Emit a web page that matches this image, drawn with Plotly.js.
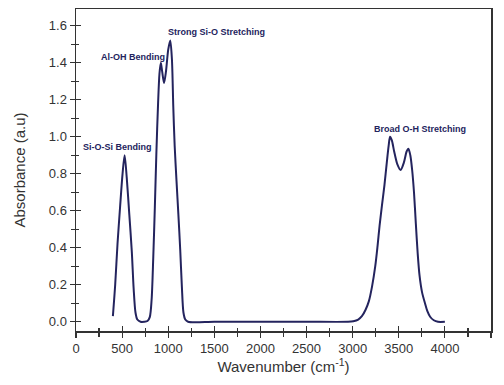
<!DOCTYPE html>
<html>
<head>
<meta charset="utf-8">
<script src="https://cdn.plot.ly/plotly-3.0.1.min.js"></script>
<style>html,body{margin:0;padding:0;background:#fff}#chart{width:504px;height:385px}</style>
</head>
<body>
<div id="chart"></div>
<script>
// Wavenumber (cm-1) and absorbance (a.u.)
var wavenumber = [400,425,450,478,505,527,550,578,605,625,645,665,700,740,775,800,820,838,855,872,890,905,920,935,955,975,1000,1022,1040,1055,1070,1090,1110,1130,1148,1165,1185,1215,1500,2000,2500,2950,3007,3060,3100,3140,3175,3210,3245,3270,3292,3318,3345,3370,3390,3405,3425,3450,3485,3520,3555,3585,3604,3625,3645,3665,3685,3705,3725,3752,3784,3810,3840,3880,3925,4000];
var absorbance = [0.03,0.20,0.42,0.62,0.80,0.90,0.78,0.58,0.38,0.18,0.05,0.012,0.0,0.0,0.004,0.025,0.12,0.35,0.62,0.92,1.18,1.34,1.40,1.35,1.29,1.35,1.47,1.52,1.42,1.16,0.95,0.76,0.58,0.39,0.19,0.05,0.012,0.0,0,0,0,0,0.003,0.012,0.03,0.065,0.11,0.19,0.30,0.41,0.52,0.63,0.74,0.86,0.95,1.00,0.98,0.92,0.85,0.82,0.86,0.92,0.935,0.90,0.82,0.70,0.53,0.37,0.25,0.16,0.10,0.057,0.027,0.008,0.0,0.0];

var bandLabels = ["Si-O-Si Bending","Al-OH Bending","Strong Si-O Stretching","Broad O-H Stretching"];
var bandLabelX = [455,620,1526,3730];
var bandLabelY = [0.943,1.432,1.568,1.042];

var xTickVals = [0,500,1000,1500,2000,2500,3000,3500,4000,4500];
var yTickVals = [0.0,0.2,0.4,0.6,0.8,1.0,1.2,1.4,1.6];

var navy = '#24245e';
var axisCol = '#333333';

var trace = {
  x: wavenumber, y: absorbance, type: 'scatter', mode: 'lines',
  line: {color: navy, width: 2, shape: 'spline', smoothing: 0.8},
  hoverinfo: 'skip', showlegend: false
};

var annotations = bandLabels.map(function(t,i){
  return {x: bandLabelX[i], y: bandLabelY[i], xref:'x', yref:'y', text: '<b>' + t + '</b>', showarrow:false,
    xanchor:'center', yanchor:'middle',
    font:{family:'Liberation Sans, Arial, sans-serif', size:9, color:navy}};
});

var xr = [0,4500], yr = [-0.05,1.69];
var layout = {
  width: 504, height: 385,
  margin: {l:76, r:13, t:9, b:54},
  paper_bgcolor:'#ffffff', plot_bgcolor:'#ffffff',
  font: {family:'Liberation Sans, Arial, sans-serif', color:axisCol},
  xaxis: {
    range: xr, tickvals: xTickVals, ticks:'outside', ticklen:5, tickwidth:1.2, tickcolor:axisCol,
    showline:true, linecolor:axisCol, linewidth:1.5, mirror:true, showgrid:false, zeroline:false,
    tickfont:{size:13, color:axisCol},
    minor:{dtick:250, tick0:0, ticks:'outside', ticklen:4, tickwidth:1.2, tickcolor:axisCol, showgrid:false},
    title:{text:'Wavenumber (cm<sup>-1</sup>)', font:{size:15, color:axisCol}, standoff:6}
  },
  yaxis: {
    range: yr, tickvals: yTickVals, tickformat:'.1f', ticks:'outside', ticklen:5, tickwidth:1.2, tickcolor:axisCol,
    showline:true, linecolor:axisCol, linewidth:1.5, mirror:true, showgrid:false, zeroline:false,
    tickfont:{size:13, color:axisCol},
    minor:{dtick:0.1, tick0:0, ticks:'outside', ticklen:4, tickwidth:1.2, tickcolor:axisCol, showgrid:false},
    title:{text:'Absorbance (a.u)', font:{size:15, color:axisCol}, standoff:19}
  },
  xaxis2: {
    overlaying:'x', matches:'x', range: xr, tickvals: xTickVals, ticks:'inside', ticklen:5, tickwidth:1.2, tickcolor:axisCol,
    showticklabels:false, showline:false, showgrid:false, zeroline:false, side:'bottom',
    minor:{dtick:250, tick0:0, ticks:'inside', ticklen:3, tickwidth:1.2, tickcolor:axisCol, showgrid:false}
  },
  yaxis2: {
    overlaying:'y', matches:'y', range: yr, tickvals: yTickVals, ticks:'inside', ticklen:5, tickwidth:1.2, tickcolor:axisCol,
    showticklabels:false, showline:false, showgrid:false, zeroline:false, side:'left',
    minor:{dtick:0.1, tick0:0, ticks:'inside', ticklen:3, tickwidth:1.2, tickcolor:axisCol, showgrid:false}
  },
  annotations: annotations
};

var ghost = {x:[0], y:[0], xaxis:'x2', yaxis:'y2', type:'scatter', mode:'markers',
  marker:{opacity:0}, hoverinfo:'skip', showlegend:false};

Plotly.newPlot('chart', [trace, ghost], layout, {staticPlot:true, displayModeBar:false});
</script>
</body>
</html>
